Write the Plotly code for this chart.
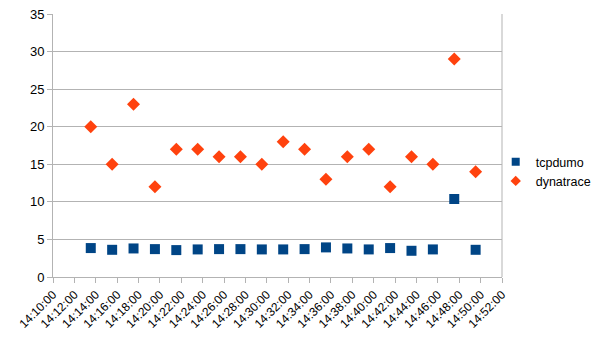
import plotly.graph_objects as go

# Sample timestamps (every two minutes) and measured values
times = [
    "2020-01-01 14:13:32", "2020-01-01 14:15:32", "2020-01-01 14:17:32",
    "2020-01-01 14:19:32", "2020-01-01 14:21:32", "2020-01-01 14:23:32",
    "2020-01-01 14:25:32", "2020-01-01 14:27:32", "2020-01-01 14:29:32",
    "2020-01-01 14:31:32", "2020-01-01 14:33:32", "2020-01-01 14:35:32",
    "2020-01-01 14:37:32", "2020-01-01 14:39:32", "2020-01-01 14:41:32",
    "2020-01-01 14:43:32", "2020-01-01 14:45:32", "2020-01-01 14:47:32",
    "2020-01-01 14:49:32",
]
tcpdumo = [3.85, 3.62, 3.8, 3.71, 3.58, 3.67, 3.71, 3.71, 3.67, 3.67,
           3.71, 3.94, 3.8, 3.67, 3.85, 3.49, 3.67, 10.38, 3.62]
dynatrace = [20, 15, 23, 12, 17, 17, 16, 16, 15, 18,
             17, 13, 16, 17, 12, 16, 15, 29, 14]

x_range = ["2020-01-01 14:10:00", "2020-01-01 14:52:00"]
y_ticks = [0, 5, 10, 15, 20, 25, 30, 35]

series = [
    ("tcpdumo", tcpdumo, "square", 10, 8, "#004586"),
    ("dynatrace", dynatrace, "diamond", 10, 8, "#ff420e"),
]

fig = go.Figure()
for name, values, symbol, size, legend_size, color in series:
    # data markers
    fig.add_trace(go.Scatter(
        x=times, y=values, mode="markers", name=name, showlegend=False,
        marker=dict(symbol=symbol, size=size, color=color),
    ))
    # smaller legend swatch
    fig.add_trace(go.Scatter(
        x=[None], y=[None], mode="markers", name=name, showlegend=True,
        marker=dict(symbol=symbol, size=legend_size, color=color),
    ))

fig.update_layout(
    width=606, height=341,
    margin=dict(l=53, r=104, t=14, b=64, autoexpand=False),
    paper_bgcolor="white", plot_bgcolor="white",
    font=dict(family="Liberation Sans, Arial, sans-serif", size=12, color="#000000"),
    showlegend=True,
    legend=dict(
        xref="container", yref="container",
        x=0.818, y=0.497, xanchor="left", yanchor="middle",
        font=dict(size=12.5), itemwidth=30,
        tracegroupgap=0, bgcolor="rgba(0,0,0,0)",
    ),
    xaxis=dict(
        type="date", range=x_range, dtick=120000,
        tick0="2020-01-01 14:10:00",
        tickformat="%H:%M:%S", tickangle=-45, automargin=False,
        showgrid=False, showline=True, linecolor="#b3b3b3", linewidth=1,
        ticks="outside", ticklen=5, tickcolor="#b3b3b3",
        mirror=False, zeroline=False,
    ),
    yaxis=dict(
        range=[0, 35], tickvals=y_ticks, automargin=False,
        showgrid=True, gridcolor="#b3b3b3", gridwidth=1,
        showline=True, linecolor="#b3b3b3", linewidth=1,
        ticks="outside", ticklen=5, tickcolor="#b3b3b3",
        zeroline=False, tickfont=dict(size=13),
    ),
)

# Right-hand border of the plot area
fig.add_shape(type="line", xref="paper", yref="paper", x0=1, x1=1, y0=0, y1=1,
              line=dict(color="#b3b3b3", width=1))

fig.write_html("out.html")
